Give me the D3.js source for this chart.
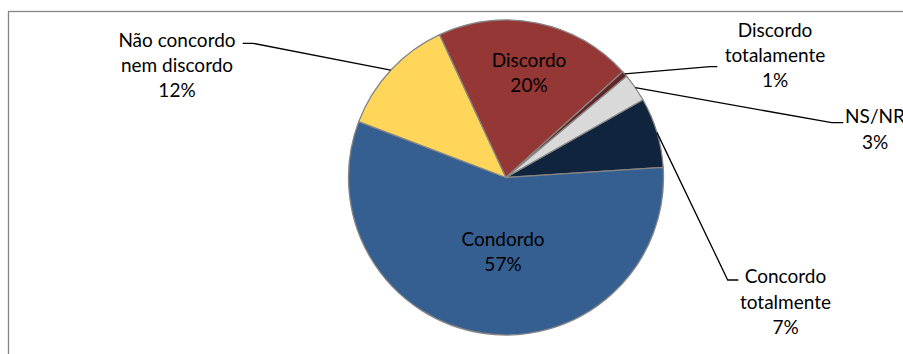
<!DOCTYPE html>
<html>
<head>
<meta charset="utf-8">
<script src="https://cdn.jsdelivr.net/npm/d3@7"></script>
<style>
  html, body { margin: 0; padding: 0; background: #fff; }
  svg { display: block; }
  text { font-family: Lato, "Open Sans", sans-serif; fill: #000; }
</style>
</head>
<body>
<svg id="chart" width="903" height="354"></svg>
<script>
// ---- data ----
const categories = ["Concordo totalmente", "Condordo", "Não concordo nem discordo", "Discordo", "Discordo totalamente", "NS/NR"];
const values = [7.2, 56.8, 12.3, 20.2, 0.6, 2.9];
const labelLines = [["Concordo", "totalmente"], ["Condordo"], ["Não concordo", "nem discordo"], ["Discordo"], ["Discordo", "totalamente"], ["NS/NR"]];
const colors = ["#10243E", "#365F91", "#FFD65A", "#953735", "#632523", "#D9D9D9"];

// ---- layout ----
const W = 903, H = 354;
const cx = 506, cy = 177.5, R = 157.5;
const startDeg = 60.4;
const lineH = 25.3;
const fontSize = 19;
// label placement: center of first text line, and leader elbow (elbow x, end x, y) or null for inside labels
const labelLayout = [
  { x: 785.5, y: 276.7, elbow: [727.7, 738.3, 280] },
  { x: 503,   y: 239.3, elbow: null },
  { x: 177,   y: 40,    elbow: [253, 242.7, 43.3] },
  { x: 529,   y: 60,    elbow: null },
  { x: 775,   y: 30,    elbow: [710, 717.3, 66.7] },
  { x: 875,   y: 116.7, elbow: [831.7, 843.3, 122.7] }
];

const svg = d3.select("#chart");

// chart frame
svg.append("rect")
  .attr("x", 8.5).attr("y", 11.5)
  .attr("width", 2000).attr("height", 2000)
  .attr("fill", "#fff")
  .attr("stroke", "#868686").attr("stroke-width", 1.3);

const data = categories.map((c, i) => ({ name: c, value: values[i], lines: labelLines[i], color: colors[i], layout: labelLayout[i] }));

const a0 = startDeg * Math.PI / 180;
const pie = d3.pie().sort(null).value(d => d.value).startAngle(a0).endAngle(a0 + 2 * Math.PI);
const arcs = pie(data);
const arc = d3.arc().innerRadius(0).outerRadius(R);

const g = svg.append("g").attr("transform", `translate(${cx},${cy})`);
g.selectAll("path.slice")
  .data(arcs)
  .join("path")
  .attr("class", "slice")
  .attr("d", arc)
  .attr("fill", d => d.data.color)
  .attr("stroke", "#868686")
  .attr("stroke-width", 1.3)
  .attr("stroke-linejoin", "round");

// leader lines
const total = d3.sum(values);
arcs.forEach(d => {
  const L = d.data.layout;
  if (!L.elbow) return;
  const mid = (d.startAngle + d.endAngle) / 2;
  const px = cx + R * Math.sin(mid);
  const py = cy - R * Math.cos(mid);
  const [ex, endx, ey] = L.elbow;
  svg.append("path")
    .attr("d", `M${px},${py}L${ex},${ey}L${endx},${ey}`)
    .attr("fill", "none")
    .attr("stroke", "#000")
    .attr("stroke-width", 1.3);
});

// labels
arcs.forEach(d => {
  const L = d.data.layout;
  const pct = Math.round(d.data.value / total * 100) + "%";
  const lines = d.data.lines.concat([pct]);
  const t = svg.append("text")
    .attr("text-anchor", "middle")
    .attr("font-size", fontSize);
  lines.forEach((ln, k) => {
    t.append("tspan")
      .attr("x", L.x)
      .attr("y", L.y + k * lineH)
      .attr("dy", "0.35em")
      .text(ln);
  });
});
</script>
</body>
</html>
